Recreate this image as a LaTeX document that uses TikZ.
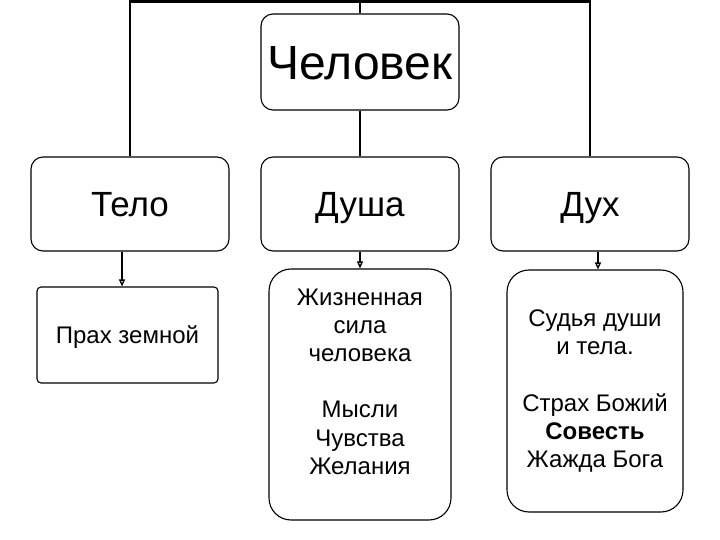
\documentclass[tikz,border=0pt]{standalone}
\usepackage{fontspec}
\setmainfont{Liberation Sans}
\usetikzlibrary{arrows.meta,positioning,calc}
\newcommand{\bigfont}{\fontsize{48}{56}\selectfont}
\newcommand{\midfont}{\fontsize{35}{42}\selectfont}
\newcommand{\smallfont}{\fontsize{24}{28.2}\selectfont}

\begin{document}
\begin{tikzpicture}[x=1pt, y=-1pt]
\tikzstyle{main}=[rectangle, draw=black, line width=1.1pt, rounded corners=12pt, inner sep=0pt]
\tikzstyle{head}=[main, minimum width=198pt, minimum height=96pt, font=\bigfont, text height=34.4pt, text depth=0pt]
\tikzstyle{part}=[main, minimum width=198pt, minimum height=94pt, font=\midfont, text height=25pt, text depth=0pt]
\tikzstyle{note}=[main, align=center, font=\smallfont, rounded corners=22pt]
\tikzstyle{trunk}=[line width=2.2pt]
\tikzstyle{connect}=[-{Triangle[open, length=7pt, width=6pt]}, line width=1.3pt]

  \useasboundingbox (0,0) rectangle (720,540);

  \node[head] (man)    at (360,62)   {Человек};
  \node[part] (body)   at (130,204)  {Тело};
  \node[part] (soul)   at (360,204)  {Душа};
  \node[part] (spirit) at (590,204)  {Дух};

  \node[note, minimum width=181pt, minimum height=96pt, rounded corners=4pt, text height=17pt, text depth=0pt]
       (dust)  at (127.5,335) {Прах земной};
  \node[note, minimum width=182pt, minimum height=251pt]
       (life)  at (360,394.5) {Жизненная\\сила\\человека\\[28.2pt]Мысли\\Чувства\\Желания\\[-2.2pt]\mbox{}};
  \node[note, minimum width=176pt, minimum height=242pt]
       (judge) at (595,391)   {Судья души\\и тела.\\[28.2pt]Страх Божий\\\textbf{Совесть}\\Жажда Бога};

  \coordinate (top) at (360,1.5);

  \draw[trunk] (body.north) |- (top) -| (spirit.north);
  \draw[trunk] (top) -- (man.north);
  \draw[trunk] (man.south) -- (soul.north);

  \draw[connect] ([xshift=-8pt]body.south) -- ([xshift=-8pt]body.south |- dust.north);
  \draw[connect] (soul.south) -- (soul.south |- life.north);
  \draw[connect] ([xshift=8pt]spirit.south) -- ([xshift=8pt]spirit.south |- judge.north);

\end{tikzpicture}
\end{document}
